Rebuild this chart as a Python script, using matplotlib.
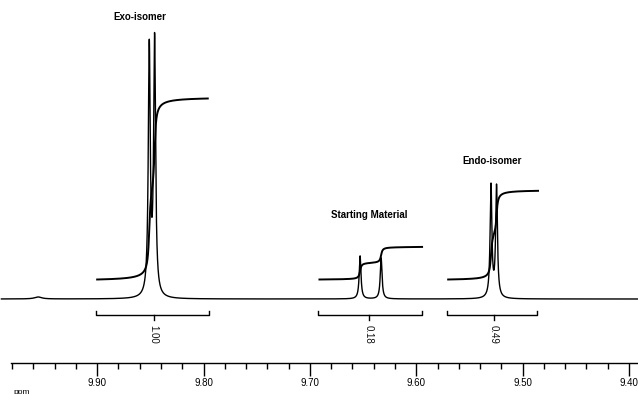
import numpy as np
import matplotlib
matplotlib.use("Agg")
import matplotlib.pyplot as plt

plt.rcParams['font.family'] = ['Liberation Sans', 'DejaVu Sans']

# ---- data ----
# peaks: position (ppm), height (relative intensity), half-width (ppm)
peak_ppm = [9.9555, 9.8510, 9.8460, 9.6528, 9.6330, 9.5297, 9.5245]
peak_height = [2.0, 248.0, 255.0, 43.0, 41.0, 112.0, 111.0]
peak_hwhm = [0.004, 0.0011, 0.0011, 0.0010, 0.0010, 0.0010, 0.0010]

# integral regions
region_names = ["Exo-isomer", "Starting Material", "Endo-isomer"]
region_start = [9.900, 9.691, 9.570]
region_end = [9.796, 9.5945, 9.4855]
integral_values = [1.00, 0.18, 0.49]
integral_labels = ["1.00", "0.18", "0.49"]
bracket_start = [9.901, 9.692, 9.571]
bracket_end = [9.795, 9.5945, 9.4865]
bracket_center = [9.847, 9.6444, 9.527]

# text label positions (ppm, intensity)
label_ppm = [9.8596, 9.6444, 9.5288]
label_y = [282, 84, 138]

tick_major = [9.90, 9.80, 9.70, 9.60, 9.50, 9.40]
tick_labels = ["9.90", "9.80", "9.70", "9.60", "9.50", "9.40"]

# ---- figure ----
W, H = 638, 394
fig = plt.figure(figsize=(W / 100, H / 100), dpi=100)
ax_bottom_px = 363
ax = fig.add_axes([11 / W, 1 - ax_bottom_px / H, 1 - 11 / W, ax_bottom_px / H])
ax.set_xlim(9.981, 9.3915)
ax.set_ylim(-(ax_bottom_px - 299), 299)

x = np.linspace(9.99, 9.385, 30000)
spec = np.zeros_like(x)
for p, h, g in zip(peak_ppm, peak_height, peak_hwhm):
    spec += h * g**2 / ((x - p)**2 + g**2)
ax.plot(x, spec, color='black', lw=1.0, clip_on=False)

# integral curves
integ_scale = 181.0
integ_offset = 19.5
for s, e, v in zip(region_start, region_end, integral_values):
    xs = np.linspace(s, e, 4000)
    ys = np.zeros_like(xs)
    for p, h, g in zip(peak_ppm, peak_height, peak_hwhm):
        ys += h * g**2 / ((xs - p)**2 + g**2)
    c = np.cumsum(ys)
    c = c / c[-1]
    ax.plot(xs, integ_offset + c * v * integ_scale, color='black', lw=1.4)

# integration brackets
for bs, be, bc, lab in zip(bracket_start, bracket_end, bracket_center, integral_labels):
    ax.plot([bs, bs, be, be], [-12, -16, -16, -12], color='black', lw=1.0)
    ax.plot([bc, bc], [-16, -21], color='black', lw=1.0)
    ax.text(bc, -35, lab, rotation=-90, ha='center', va='center', fontsize=7, color='#111111')

for lp, ly, name in zip(label_ppm, label_y, region_names):
    ax.text(lp, ly, name, ha='center', va='center', fontsize=7, fontweight='bold')

# axis styling
for sp in ['top', 'right', 'left']:
    ax.spines[sp].set_visible(False)
ax.spines['bottom'].set_linewidth(1.0)
ax.set_yticks([])
ax.set_xticks(tick_major)
ax.set_xticklabels(tick_labels, fontsize=7)
ax.set_xticks(np.arange(9.98, 9.385, -0.02), minor=True)
ax.tick_params(axis='x', which='major', direction='out', length=9, width=1.0, pad=1.5)
ax.tick_params(axis='x', which='minor', direction='out', length=4, width=1.0)
ax.patch.set_alpha(0)

fig.text(22 / W, 1 - 392 / H, "ppm", fontsize=6, ha='center', va='center')

fig.savefig("out.png", dpi=100)
